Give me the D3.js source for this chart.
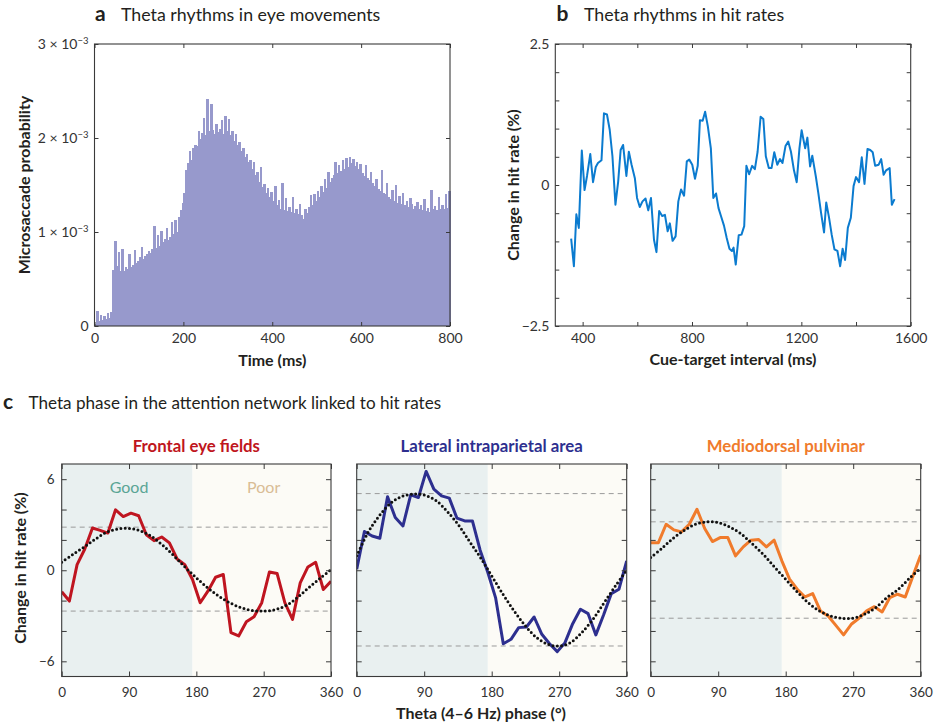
<!DOCTYPE html>
<html><head><meta charset="utf-8">
<script src="https://cdn.jsdelivr.net/npm/d3@7"></script>
<style>
body{margin:0;background:#fff;}
svg{font-family:Lato,"Open Sans",sans-serif;}
</style></head><body>
<svg id="chart" width="936" height="726"></svg>
<script>
// ---------- DATA ----------
// Panel a: microsaccade probability histogram (units of 1e-4), 4 ms bins from 0 to 800 ms
const histBinMs = 4;
const microsaccadeProb = [
 0.2,1.6,0.5,1.2,0.6,1.1,0.7,1.4,0.9,1.5,
 6.0,9.0,6.4,7.9,5.8,8.2,5.9,6.3,6.1,7.7,
 6.3,6.5,8.1,6.7,6.9,7.3,8.4,7.1,7.5,7.7,
 8.0,7.8,8.2,10.6,8.3,9.7,8.5,10.1,8.9,9.3,
 10.4,9.1,9.5,11.1,9.8,11.3,10.0,11.6,12.3,13.1,
 14.1,16.6,17.3,18.6,17.7,18.9,19.3,19.1,20.7,19.9,
 20.5,22.1,20.3,24.1,20.7,23.6,20.9,20.4,21.5,20.6,
 21.0,21.9,20.4,22.3,20.7,22.0,20.3,20.7,19.7,20.4,
 19.3,19.6,18.6,18.9,18.0,18.3,17.4,17.7,16.7,17.5,
 16.1,16.4,15.3,16.9,14.8,15.1,14.2,14.7,13.7,14.3,
 13.3,14.9,12.9,13.4,12.5,15.2,12.3,13.6,12.2,12.7,
 12.1,13.7,12.0,12.4,11.9,13.0,11.8,11.4,12.5,12.0,
 12.7,13.9,12.9,14.0,13.3,14.4,13.7,14.9,14.3,15.6,
 14.7,16.4,15.3,15.7,16.1,17.5,16.3,17.1,16.5,17.7,
 16.7,17.9,16.9,18.0,17.3,17.8,17.0,17.4,16.7,17.2,
 16.3,16.0,17.1,15.7,15.5,16.4,15.2,14.9,15.6,14.6,
 14.4,16.6,14.2,14.0,15.2,13.7,13.5,14.5,13.3,15.0,
 13.1,13.8,13.0,14.1,12.9,13.3,12.7,13.6,13.0,12.5,
 12.8,13.2,12.4,12.9,12.3,13.5,12.2,12.6,12.1,14.5,
 12.4,12.8,12.3,13.7,12.5,12.9,12.4,14.0,12.6,14.4
];
const histYTicks = [0, 10, 20, 30];
const histXTicks = [0, 200, 400, 600, 800];

// Panel b: change in hit rate vs cue-target interval
const cueTimes = [358,368,377,386,397,407,416,428,438,448,456,469,478,489,499,509,520,530,539,548,
 560,569,579,591,599,609,619,630,640,650,661,670,680,691,701,711,719,729,740,750,
 760,771,781,790,801,811,821,829,839,848,858,869,878,888,897,906,917,927,937,946,952,
 960,971,981,991,999,1009,1020,1030,1040,1051,1061,1070,1081,1091,1101,1112,1122,1131,1142,1152,
 1162,1173,1183,1193,1201,1214,1222,1232,1240,1253,1262,1272,1283,1291,1301,1311,1321,1332,1342,1351,
 1360,1370,1381,1391,1400,1411,1421,1431,1442,1452,1461,1470,1483,1492,1501,1510,1523,1531,1541];
const hitChange = [-0.95,-1.44,-0.52,-0.76,0.61,-0.09,0.16,0.55,0.05,0.32,0.39,0.44,1.27,1.25,0.98,0.51,-0.35,0.06,0.62,0.71,
 0.16,0.59,0.36,0.12,-0.23,-0.39,-0.29,-0.24,-0.45,-0.23,-0.97,-1.19,-0.46,-0.55,-0.53,-0.82,-0.68,-0.99,-0.91,-0.29,
 -0.08,-0.19,0.42,0.45,0.36,0.11,0.34,1.15,1.14,1.30,1.04,0.65,-0.23,-0.15,-0.41,-0.55,-0.72,-0.94,-1.13,-1.17,-1.11,
 -1.41,-0.89,-0.88,-0.73,0.34,0.19,0.34,0.28,0.59,1.21,1.17,0.51,0.30,0.30,0.58,0.36,0.46,0.39,0.69,0.77,
 0.59,0.26,0.05,0.65,0.97,0.65,0.84,0.33,0.52,0.15,-0.14,-0.49,-0.84,-0.31,-0.57,-0.88,-1.14,-1.17,-1.44,-1.13,
 -1.33,-0.76,-0.58,-0.02,0.14,0.05,0.49,0.02,0.64,0.62,0.58,0.34,0.36,0.46,0.18,0.26,0.30,-0.35,-0.25];
const cueXTicks = [400, 600, 800, 1000, 1200, 1400, 1600];
const cueXLabels = [400, 800, 1200, 1600];
const hitYTicks = [-2.5, -2, -1.5, -1, -0.5, 0, 0.5, 1, 1.5, 2, 2.5];
const hitYLabels = [-2.5, 0, 2.5];

// Panel c: theta phase bins and hit-rate changes
const phaseBins = [0,10.29,20.57,30.86,41.14,51.43,61.71,72,82.29,92.57,102.86,113.14,123.43,133.71,144,154.29,164.57,174.86,
 185.14,195.43,205.71,216,226.29,236.57,246.86,257.14,267.43,277.71,288,298.29,308.57,318.86,329.14,339.43,349.71,360];
const fefValues = [-1.42,-2.03,0.37,1.4,2.78,2.63,2.45,3.98,3.54,3.76,3.59,2.34,1.95,2.19,1.8,0.74,0.37,-0.61,
 -2.14,-1.38,-0.46,-0.28,-4.11,-4.33,-3.39,-3.06,-2.14,-0.11,-0.22,-2.14,-3.24,-0.83,0.22,0.53,-1.27,-0.72];
const lipValues = [0.07,2.55,2.26,2.11,4.84,3.47,2.92,4.97,4.79,6.51,5.34,4.9,4.75,3.43,3.25,3.25,1.32,-0.15,
 -1.8,-4.84,-4.55,-3.78,-3.74,-3.08,-4.22,-4.84,-5.36,-4.77,-3.52,-2.57,-2.86,-4.26,-2.95,-1.54,-1.25,0.62];
const mdpValues = [1.82,1.82,3.03,2.66,2.53,3.03,4.02,2.75,1.89,2.15,2.15,0.95,1.54,1.98,2.02,1.54,1.98,0.62,
 -0.59,-1.25,-1.76,-1.54,-2.68,-3.01,-3.63,-4.26,-3.56,-3.16,-2.68,-2.4,-2.75,-1.8,-1.58,-1.76,-0.37,1.01];
const fitPhases = [0,15,30,45,60,75,90,105,120,135,150,165,180,195,210,225,240,255,270,285,300,315,330,345,360];
const fefFit = [0.53,1.05,1.53,2.05,2.5,2.72,2.76,2.6,2.23,1.65,0.95,0.2,-0.5,-1.15,-1.71,-2.15,-2.47,-2.65,-2.69,-2.6,-2.32,-1.8,-1.16,-0.55,0.04];
const lipFit = [0.95,2.48,3.58,4.4,4.86,5.01,4.95,4.62,3.91,3.03,1.93,0.84,-0.37,-1.58,-2.68,-3.67,-4.44,-4.88,-4.99,-4.77,-4.11,-3.23,-2.13,-1.03,0.0];
const mdpFit = [0.84,1.45,2.11,2.64,3.03,3.19,3.14,2.86,2.42,1.76,1.05,0.22,-0.59,-1.41,-2.13,-2.68,-3.01,-3.16,-3.16,-2.9,-2.46,-1.8,-1.25,-0.53,0.13];
const fefBounds = [2.84, -2.69];
const lipBounds = [5.05, -4.99];
const mdpBounds = [3.19, -3.16];
const regionNames = ["Frontal eye fields", "Lateral intraparietal area", "Mediodorsal pulvinar"];
const goodPhaseRange = [0, 174.86];
const poorPhaseRange = [174.86, 360];
const phaseTicks = [0, 90, 180, 270, 360];
const phaseYTicks = [-6, -4, -2, 0, 2, 4, 6];
const phaseYLabels = [-6, 0, 6];

// ---------- DRAWING ----------
const svg = d3.select("#chart");
const AX = "#3a3a3a";
const INK = "#231f20";
const minus = v => (v < 0 ? "\u2212" + Math.abs(v) : String(v));

function drawAxes(g, x, y, box, o) {
  const bx = g.append("g").attr("transform", `translate(0,${box.b})`)
    .call(d3.axisBottom(x).tickValues(o.xTicks).tickSizeInner(-o.tick).tickSizeOuter(0).tickPadding(o.xPad)
      .tickFormat(d => o.xLabels.includes(d) ? minus(d) : ""));
  g.append("g").attr("transform", `translate(0,${box.t})`)
    .call(d3.axisTop(x).tickValues(o.xTicks).tickSizeInner(-o.tick).tickSizeOuter(0).tickFormat(""));
  const ly = g.append("g").attr("transform", `translate(${box.l},0)`)
    .call(d3.axisLeft(y).tickValues(o.yTicks).tickSizeInner(-o.tick).tickSizeOuter(0).tickPadding(o.yPad)
      .tickFormat(d => (o.yLabels && o.yLabels.includes(d)) ? (o.yFmt ? o.yFmt(d) : minus(d)) : ""));
  g.append("g").attr("transform", `translate(${box.r},0)`)
    .call(d3.axisRight(y).tickValues(o.yTicks).tickSizeInner(-o.tick).tickSizeOuter(0).tickFormat(""));
  g.selectAll(".domain").remove();
  g.selectAll(".tick line").attr("stroke", AX).attr("stroke-width", 1);
  g.selectAll("g").attr("font-family", null).attr("font-size", null);
  g.selectAll(".tick text").attr("font-size", o.fs).attr("fill", "#333");
  g.append("rect").attr("x", box.l).attr("y", box.t).attr("width", box.r - box.l).attr("height", box.b - box.t)
    .attr("fill", "none").attr("stroke", AX).attr("stroke-width", 1.1);
  return {bx, ly};
}

function panelTitle(letter, text, x, tx, yb, fs) {
  svg.append("text").attr("x", x).attr("y", yb).attr("font-weight", 700).attr("font-size", 21).attr("fill", INK).text(letter);
  svg.append("text").attr("x", tx).attr("y", yb).attr("font-size", fs).attr("fill", INK).text(text);
}
function axisLabel(text, x, y, rotate) {
  const t = svg.append("text").attr("text-anchor", "middle").attr("font-weight", 700).attr("font-size", 16).attr("fill", INK).text(text);
  if (rotate) t.attr("transform", `translate(${x},${y}) rotate(-90)`);
  else t.attr("x", x).attr("y", y);
}

// ---- Panel a ----
panelTitle("a", "Theta rhythms in eye movements", 95, 121, 21, 17.8);
const A = {l: 94.5, r: 450, t: 44, b: 326};
const xA = d3.scaleLinear().domain([0, 800]).range([A.l, A.r]);
const yA = d3.scaleLinear().domain([0, 30]).range([A.b, A.t]);
const gA = svg.append("g");
gA.selectAll("rect.bar").data(microsaccadeProb).join("rect").attr("class", "bar")
  .attr("x", (d, i) => xA(i * histBinMs))
  .attr("width", (d, i) => xA((i + 1) * histBinMs) - xA(i * histBinMs) + 0.7)
  .attr("y", d => yA(d)).attr("height", d => yA(0) - yA(d))
  .attr("fill", "#9799cc").attr("shape-rendering", "crispEdges");
const axA = drawAxes(gA, xA, yA, A, {xTicks: histXTicks, xLabels: histXTicks, yTicks: histYTicks, yLabels: histYTicks,
  tick: 4, xPad: 7, yPad: 6, fs: 14, yFmt: d => ""});
axA.ly.selectAll(".tick text").each(function(d) {
  const t = d3.select(this);
  t.text("");
  if (d === 0) { t.text("0"); return; }
  t.append("tspan").text(`${d / 10} \u00d7 10`);
  t.append("tspan").attr("dy", "-0.5em").attr("font-size", 9.5).text("\u22123");
});
axisLabel("Microsaccade probability", 30, (A.t + A.b) / 2, true);
axisLabel("Time (ms)", (A.l + A.r) / 2, 366, false);

// ---- Panel b ----
panelTitle("b", "Theta rhythms in hit rates", 556.5, 584, 21, 17.8);
const B = {l: 555.3, r: 910.7, t: 44, b: 326};
const xB = d3.scaleLinear().domain([300, 1600]).range([B.l, B.r]);
const yB = d3.scaleLinear().domain([-2.5, 2.5]).range([B.b, B.t]);
const gB = svg.append("g");
drawAxes(gB, xB, yB, B, {xTicks: cueXTicks, xLabels: cueXLabels, yTicks: hitYTicks, yLabels: hitYLabels,
  tick: 4, xPad: 7, yPad: 6, fs: 14});
gB.append("path").datum(d3.zip(cueTimes, hitChange))
  .attr("d", d3.line().x(d => xB(d[0])).y(d => yB(d[1])))
  .attr("fill", "none").attr("stroke", "#0b7bcf").attr("stroke-width", 2).attr("stroke-linejoin", "round");
axisLabel("Change in hit rate (%)", 519, (B.t + B.b) / 2, true);
axisLabel("Cue-target interval (ms)", (B.l + B.r) / 2, 365, false);

// ---- Panel c ----
panelTitle("c", "Theta phase in the attention network linked to hit rates", 3, 28.5, 409, 17.1);
const subplots = [
  {name: regionNames[0], vals: fefValues, fit: fefFit, bounds: fefBounds, color: "#bf1520", l: 61.7, r: 331},
  {name: regionNames[1], vals: lipValues, fit: lipFit, bounds: lipBounds, color: "#2d2f8f", l: 356.7, r: 626.7},
  {name: regionNames[2], vals: mdpValues, fit: mdpFit, bounds: mdpBounds, color: "#f07b2c", l: 650.7, r: 920.7}
];
const defs = svg.append("defs");
subplots.forEach((s, k) => {
  const C = {l: s.l, r: s.r, t: 464, b: 676.5};
  const x = d3.scaleLinear().domain([0, 360]).range([C.l, C.r]);
  const y = d3.scaleLinear().domain([-7, 7]).range([C.b, C.t]);
  const g = svg.append("g");
  defs.append("clipPath").attr("id", "clip" + k).append("rect")
    .attr("x", C.l).attr("y", C.t).attr("width", C.r - C.l).attr("height", C.b - C.t);
  g.append("rect").attr("x", x(goodPhaseRange[0])).attr("y", C.t).attr("width", x(goodPhaseRange[1]) - x(goodPhaseRange[0]))
    .attr("height", C.b - C.t).attr("fill", "#e9f0f0");
  g.append("rect").attr("x", x(poorPhaseRange[0])).attr("y", C.t).attr("width", x(poorPhaseRange[1]) - x(poorPhaseRange[0]))
    .attr("height", C.b - C.t).attr("fill", "#fcfbf6");
  if (k === 0) {
    g.append("text").attr("x", x(90)).attr("y", 493).attr("text-anchor", "middle").attr("font-size", 16)
      .attr("fill", "#5aa595").text("Good");
    g.append("text").attr("x", x(270)).attr("y", 493).attr("text-anchor", "middle").attr("font-size", 16)
      .attr("fill", "#d9bd95").text("Poor");
  }
  g.selectAll("line.bound").data(s.bounds).join("line").attr("class", "bound")
    .attr("x1", C.l).attr("x2", C.r).attr("y1", d => y(d)).attr("y2", d => y(d))
    .attr("stroke", "#9a9a9a").attr("stroke-width", 1).attr("stroke-dasharray", "5,4");
  const inner = g.append("g").attr("clip-path", `url(#clip${k})`);
  inner.append("path").datum(d3.zip(phaseBins, s.vals))
    .attr("d", d3.line().x(d => x(d[0])).y(d => y(d[1])))
    .attr("fill", "none").attr("stroke", s.color).attr("stroke-width", 3).attr("stroke-linejoin", "round");
  inner.append("path").datum(d3.zip(fitPhases, s.fit))
    .attr("d", d3.line().curve(d3.curveCatmullRom).x(d => x(d[0])).y(d => y(d[1])))
    .attr("fill", "none").attr("stroke", "#111").attr("stroke-width", 3).attr("stroke-linecap", "round")
    .attr("stroke-dasharray", "0,4.3");
  drawAxes(g, x, y, C, {xTicks: phaseTicks, xLabels: phaseTicks, yTicks: phaseYTicks,
    yLabels: k === 0 ? phaseYLabels : [], tick: 5, xPad: 11, yPad: 7, fs: 13.5});
  svg.append("text").attr("x", (C.l + C.r) / 2).attr("y", 451.5).attr("text-anchor", "middle")
    .attr("font-weight", 700).attr("font-size", 16.8).attr("fill", s.color).text(s.name);
});
axisLabel("Change in hit rate (%)", 26, 568, true);
axisLabel("Theta (4\u20136 Hz) phase (\u00b0)", 481, 719, false);
</script>
</body></html>
